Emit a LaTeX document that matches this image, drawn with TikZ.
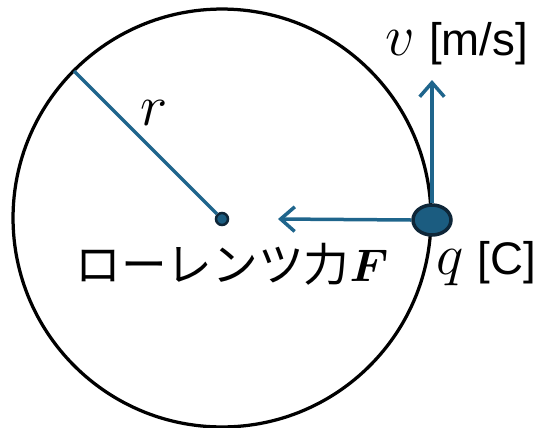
\RequirePackage{fix-cm}
\documentclass[tikz,border=0pt]{standalone}
\usepackage{fontspec}
\usepackage{bm}
\setsansfont{Liberation Sans}
\newfontfamily\jpfont{Noto Sans CJK JP}
\newcommand{\bigmath}[1]{{\fontsize{33}{36}\selectfont$#1$}}
\usetikzlibrary{arrows.meta, shapes.geometric}
\definecolor{vecblue}{RGB}{31,101,140}
\definecolor{chgfill}{RGB}{27,92,128}
\definecolor{chgline}{RGB}{14,38,56}

\begin{document}
\begin{tikzpicture}[
      x=0.02cm, y=-0.02cm,
      vec/.style={draw=vecblue, line width=0.07cm,
      -{Straight Barb[length=8pt, width=14pt]}},
      lbl/.style={font=\fontsize{26}{30}\selectfont, inner sep=0pt},
      chg/.style={fill=chgfill, draw=chgline, inner sep=0pt}
    ]
    \useasboundingbox (0,0) rectangle (538,427);

    % Orbit
    \draw[line width=0.065cm] (222,218) circle[radius=4.18cm];

    % Centre and radius
    \node[chg, circle, line width=0.05cm, minimum size=0.24cm] (o) at (222,219) {};
    \coordinate (rim) at (74,71);
    \draw[draw=vecblue, line width=0.07cm] (o) -- (rim);
    \node[lbl] (rlab) at (154,113) {\bigmath{r}};

    % Charge
    \node[chg, ellipse, line width=0.07cm, minimum width=0.76cm,
    minimum height=0.6cm] (q) at (432,220) {};
    \coordinate (vtip) at (433,80);
    \coordinate (ftip) at (278,219);
    \draw[vec] (q.north) -- (q.north |- vtip);
    \draw[vec] (q.west) -- (ftip);

    % Labels
    \node[lbl] (vlab) at (457,44) {\bigmath{v} \sffamily[m/s]};
    \node[lbl] (qlab) at (486,264) {\bigmath{q} \sffamily[C]};
    \node[lbl] (flab) at (232,264) {\jpfont ローレンツ力$\bm{F}$};

  \end{tikzpicture}
\end{document}
